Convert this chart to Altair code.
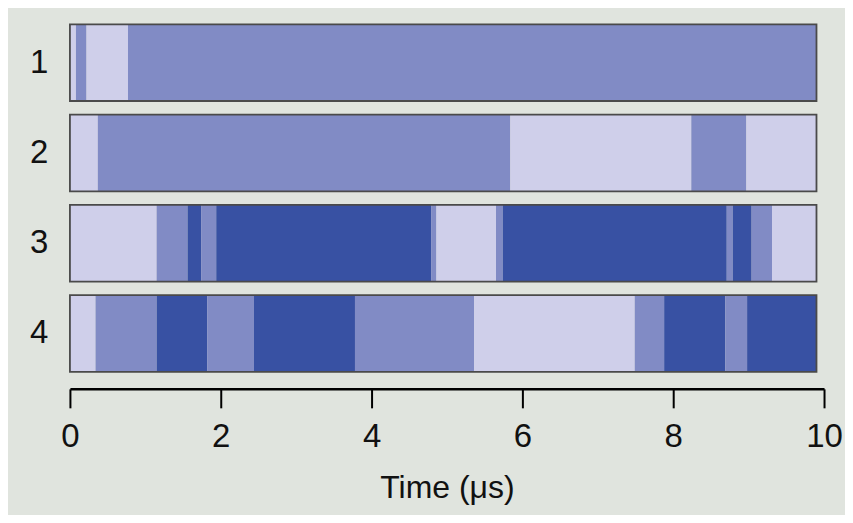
import altair as alt
import pandas as pd

# Segment boundaries (time in microseconds) and states for each trace
row_names = ["1", "2", "3", "4"]
row1_edges = [0, 0.08, 0.22, 0.77, 9.9]
row1_states = ["L", "M", "L", "M"]
row2_edges = [0, 0.37, 5.84, 8.24, 8.97, 9.9]
row2_states = ["L", "M", "L", "M", "L"]
row3_edges = [0, 1.15, 1.56, 1.74, 1.94, 4.79, 4.86, 5.65, 5.74, 8.71, 8.79, 9.04, 9.31, 9.9]
row3_states = ["L", "M", "D", "M", "D", "M", "L", "M", "D", "M", "D", "M", "L"]
row4_edges = [0, 0.34, 1.15, 1.82, 2.44, 3.78, 5.36, 7.49, 7.88, 8.69, 8.98, 9.9]
row4_states = ["L", "M", "D", "M", "D", "M", "L", "M", "D", "M", "D"]

state_names = ["L", "M", "D"]
state_colors = ["#cfcfea", "#818bc5", "#3851a3"]
x_ticks = [0, 2, 4, 6, 8, 10]

rows = []
frames = []
for name, edges, states in zip(
    row_names,
    [row1_edges, row2_edges, row3_edges, row4_edges],
    [row1_states, row2_states, row3_states, row4_states],
):
    for i, s in enumerate(states):
        rows.append({"row": name, "start": edges[i], "end": edges[i + 1], "state": s})
    frames.append({"row": name, "start": edges[0], "end": edges[-1]})

seg = pd.DataFrame(rows)
frm = pd.DataFrame(frames)

FONT = "Liberation Sans"

y_enc = alt.Y(
    "row:N",
    sort=row_names,
    scale=alt.Scale(paddingInner=0.15, paddingOuter=0),
    axis=alt.Axis(
        title=None,
        domain=False,
        ticks=False,
        labelFontSize=33,
        labelFont=FONT,
        labelColor="#111111",
        labelPadding=22,
        minExtent=62,
        maxExtent=62,
    ),
)

x_scale = alt.Scale(domain=[0, 10], nice=False, zero=False)

bars = alt.Chart(seg).mark_bar(strokeWidth=0).encode(
    x=alt.X(
        "start:Q",
        scale=x_scale,
        axis=alt.Axis(
            title="Time (\u03bcs)",
            values=x_ticks,
            format="d",
            grid=False,
            offset=17,
            domainColor="#000000",
            domainWidth=2.5,
            tickColor="#000000",
            tickWidth=2,
            tickSize=19,
            labelFontSize=33,
            labelFont=FONT,
            labelColor="#111111",
            labelPadding=13,
            labelFlush=False,
            labelOverlap=False,
            titleFontSize=32,
            titleFont=FONT,
            titleFontWeight="normal",
            titleColor="#111111",
            titlePadding=19,
        ),
    ),
    x2="end:Q",
    y=y_enc,
    color=alt.Color(
        "state:N",
        scale=alt.Scale(domain=state_names, range=state_colors),
        legend=None,
    ),
)

outline = alt.Chart(frm).mark_bar(
    fill=None, fillOpacity=0, stroke="#4a4a4a", strokeWidth=1.8
).encode(
    x=alt.X("start:Q", scale=x_scale),
    x2="end:Q",
    y=alt.Y("row:N", sort=row_names),
)

chart = (
    alt.layer(bars, outline)
    .properties(
        width=755,
        height=348,
        background="#e0e4de",
        padding={"left": 0, "top": 15, "right": 2, "bottom": 11},
    )
    .configure_view(stroke=None)
)

chart.save("out.html", embed_options={"renderer": "svg", "actions": False})
